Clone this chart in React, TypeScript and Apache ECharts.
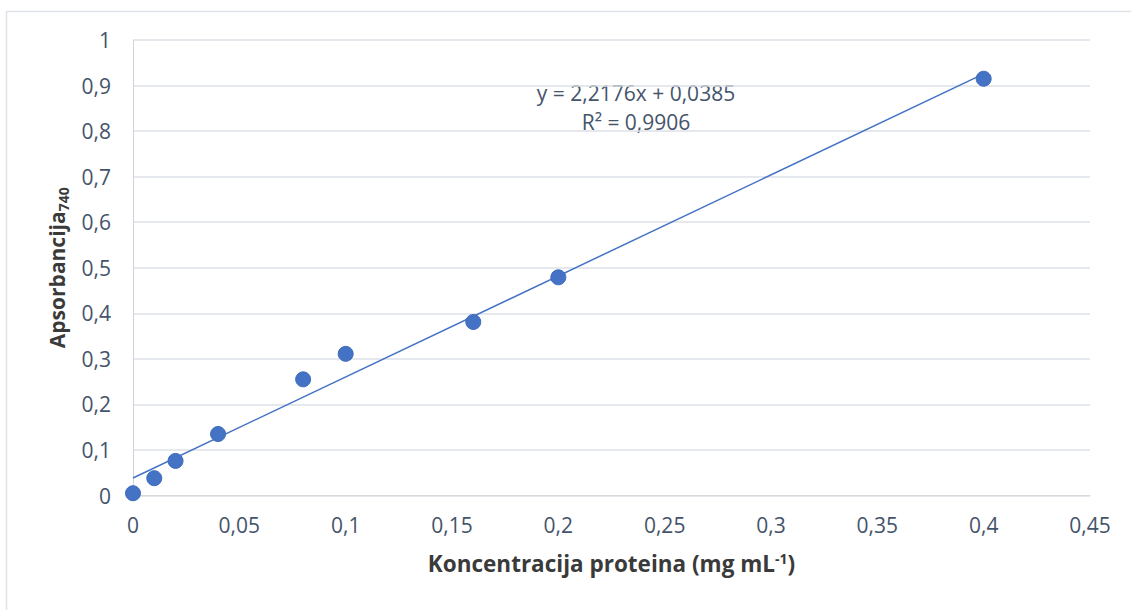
import React, { useEffect, useRef } from "react";
import * as echarts from "echarts";

const concentrations = [0, 0.01, 0.02, 0.04, 0.08, 0.1, 0.16, 0.2, 0.4];
const absorbances = [0.005, 0.038, 0.076, 0.135, 0.255, 0.311, 0.381, 0.479, 0.915];
const slope = 2.2176;
const intercept = 0.0385;
const trendRange = [0, 0.4];
const equationText = "y = 2,2176x + 0,0385";
const r2Text = "R² = 0,9906";

const fmt = (v: number) => {
  const s = parseFloat(v.toFixed(4)).toString();
  return s.replace(".", ",");
};

export default function App() {
  const ref = useRef<HTMLDivElement>(null);
  useEffect(() => {
    if (!ref.current) return;
    const chart = echarts.init(ref.current, null, { renderer: "svg" });
    const font = "'Open Sans', 'Noto Sans', sans-serif";
    const tickColor = "#44546A";
    const titleColor = "#3a3a3a";
    chart.setOption({
      animation: false,
      textStyle: { fontFamily: font },
      grid: {
        left: 133,
        right: 41,
        top: 40,
        bottom: 114.5,
        containLabel: false,
        outerBoundsMode: "none",
      },
      xAxis: {
        type: "value",
        min: 0,
        max: 0.45,
        interval: 0.05,
        axisLine: { show: true, lineStyle: { color: "#d9d9d9", width: 1 } },
        axisTick: { show: false },
        splitLine: { show: false },
        axisLabel: {
          formatter: fmt,
          color: tickColor,
          fontSize: 21,
          fontFamily: font,
          margin: 19,
        },
        name: "{a|Koncentracija proteina (mg mL}{s|-1}{a|)}",
        nameLocation: "middle",
        nameGap: 56,
        nameTextStyle: {
          rich: {
            a: { fontSize: 22.5, fontWeight: "bold", color: titleColor, fontFamily: font },
            s: { fontSize: 14, fontWeight: "bold", color: titleColor, fontFamily: font, verticalAlign: "top" },
          },
        },
      },
      yAxis: {
        type: "value",
        min: 0,
        max: 1,
        interval: 0.1,
        axisLine: { show: true, lineStyle: { color: "#d0d4da", width: 1 } },
        axisTick: { show: false },
        splitLine: { show: true, lineStyle: { color: "#dde1e6", width: 1.5 } },
        axisLabel: {
          formatter: fmt,
          color: tickColor,
          fontSize: 21,
          fontFamily: font,
          margin: 22,
        },
        name: "{a|Apsorbancija}{s|740}",
        nameLocation: "middle",
        nameRotate: 90,
        nameGap: 60,
        nameTextStyle: {
          rich: {
            a: { fontSize: 21, fontWeight: "bold", color: titleColor, fontFamily: font, lineHeight: 28 },
            s: { fontSize: 14, fontWeight: "bold", color: titleColor, fontFamily: font, verticalAlign: "bottom", lineHeight: 28 },
          },
        },
      },
      graphic: [
        {
          type: "rect",
          shape: { x: 6.5, y: 11.5, width: 1300, height: 800 },
          style: { fill: "none", stroke: "#dfe3e8", lineWidth: 1.5 },
          silent: true,
        },
        {
          type: "text",
          x: 636,
          y: 93,
          style: {
            text: equationText,
            fill: tickColor,
            fontSize: 21,
            fontFamily: font,
            align: "center",
            verticalAlign: "middle",
          },
        },
        {
          type: "text",
          x: 636,
          y: 122,
          style: {
            text: r2Text,
            fill: tickColor,
            fontSize: 21,
            fontFamily: font,
            align: "center",
            verticalAlign: "middle",
          },
        },
      ],
      series: [
        {
          type: "line",
          data: trendRange.map((x) => [x, slope * x + intercept]),
          symbol: "none",
          lineStyle: { color: "#4472C4", width: 1.5 },
          z: 2,
        },
        {
          type: "scatter",
          data: concentrations.map((x, i) => [x, absorbances[i]]),
          symbol: "circle",
          symbolSize: 15,
          itemStyle: { color: "#4472C4", borderColor: "#3f6bbd", borderWidth: 1, opacity: 1 },
          z: 3,
        },
      ],
    });
    return () => chart.dispose();
  }, []);
  return (
    <div
      ref={ref}
      style={{ position: "fixed", left: 0, top: 0, width: 1131, height: 610, background: "#fff" }}
    />
  );
}
